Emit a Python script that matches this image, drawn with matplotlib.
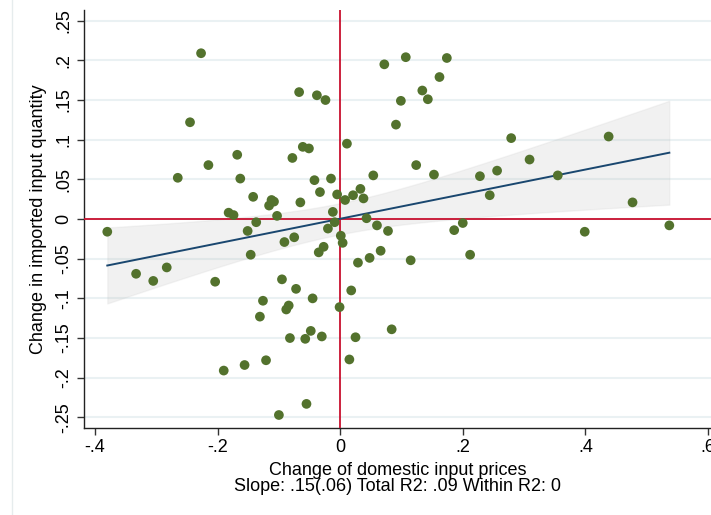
import numpy as np
import matplotlib
matplotlib.use("Agg")
import matplotlib.pyplot as plt

plt.rcParams['font.family'] = ['Liberation Sans', 'DejaVu Sans']

# change of domestic input prices (x) and imported input quantity (y)
dom_price = [
    -0.380, -0.333, -0.305, -0.283, -0.265, -0.245, -0.227, -0.215, -0.204, -0.190,
    -0.182, -0.174, -0.168, -0.163, -0.156, -0.151, -0.146, -0.142, -0.137, -0.131,
    -0.126, -0.121, -0.116, -0.112, -0.108, -0.103, -0.100, -0.095, -0.091, -0.088,
    -0.084, -0.082, -0.078, -0.075, -0.072, -0.067, -0.065, -0.061, -0.057, -0.055,
    -0.051, -0.048, -0.045, -0.042, -0.038, -0.035, -0.033, -0.030, -0.027, -0.024,
    -0.020, -0.015, -0.012, -0.009, -0.005, -0.001, 0.001, 0.004, 0.008, 0.011,
    0.015, 0.018, 0.021, 0.025, 0.029, 0.033, 0.038, 0.043, 0.048, 0.054,
    0.060, 0.066, 0.072, 0.078, 0.084, 0.091, 0.099, 0.107, 0.115, 0.124,
    0.134, 0.143, 0.153, 0.162, 0.174, 0.186, 0.200, 0.212, 0.228, 0.244,
    0.256, 0.279, 0.309, 0.355, 0.399, 0.438, 0.477, 0.537,
]
imp_qty = [
    -0.016, -0.069, -0.078, -0.061, 0.052, 0.122, 0.209, 0.068, -0.079, -0.191,
    0.008, 0.005, 0.081, 0.051, -0.184, -0.015, -0.045, 0.028, -0.004, -0.123,
    -0.103, -0.178, 0.017, 0.024, 0.022, 0.004, -0.247, -0.076, -0.029, -0.114,
    -0.109, -0.150, 0.077, -0.023, -0.088, 0.160, 0.021, 0.091, -0.151, -0.233,
    0.089, -0.141, -0.100, 0.049, 0.156, -0.042, 0.034, -0.148, -0.035, 0.150,
    -0.012, 0.051, 0.009, -0.004, 0.031, -0.111, -0.021, -0.030, 0.024, 0.095,
    -0.177, -0.090, 0.030, -0.149, -0.055, 0.038, 0.026, 0.001, -0.049, 0.055,
    -0.008, -0.040, 0.195, -0.015, -0.139, 0.119, 0.149, 0.204, -0.052, 0.068,
    0.162, 0.151, 0.056, 0.179, 0.203, -0.014, -0.005, -0.045, 0.054, 0.030,
    0.061, 0.102, 0.075, 0.055, -0.016, 0.104, 0.021, -0.008,
]

y_ticks = [-0.25, -0.2, -0.15, -0.1, -0.05, 0, 0.05, 0.1, 0.15, 0.2, 0.25]
y_ticklabels = ['-.25', '-.2', '-.15', '-.1', '-.05', '0', '.05', '.1', '.15', '.2', '.25']
x_ticks = [-0.4, -0.2, 0, 0.2, 0.4, 0.6]
x_ticklabels = ['-.4', '-.2', '0', '.2', '.4', '.6']

x = np.array(dom_price)
y = np.array(imp_qty)

# linear fit with 95% CI (like Stata lfitci)
n = len(x)
b, a = np.polyfit(x, y, 1)
resid = y - (a + b * x)
s = np.sqrt(np.sum(resid ** 2) / (n - 2))
sxx = np.sum((x - x.mean()) ** 2)
xf = np.linspace(x.min(), x.max(), 100)
yf = a + b * xf
hw = 1.985 * s * np.sqrt(1.0 / n + (xf - x.mean()) ** 2 / sxx)

fig = plt.figure(figsize=(7.11, 5.15), dpi=100)
ax = fig.add_axes([0.1177, 0.1683, 0.8823, 0.8123])

# faint frame line on the left of the graph region
fig.add_artist(plt.Line2D([0.017, 0.017], [0.0, 1.0], color='#e6eced', lw=1.0))

ax.set_xlim(-0.4185, 0.605)
ax.set_ylim(-0.2638, 0.2635)

ax.set_yticks(y_ticks)
ax.set_yticklabels(y_ticklabels, rotation=90, va='center', fontsize=13)
ax.set_xticks(x_ticks)
ax.set_xticklabels(x_ticklabels, fontsize=13)
ax.tick_params(axis='both', length=5, width=1, color='#333333', pad=3)

ax.grid(axis='y', color='#eaf1f3', lw=1.5)
ax.set_axisbelow(True)
for side in ['top', 'right']:
    ax.spines[side].set_visible(False)
for side in ['left', 'bottom']:
    ax.spines[side].set_color('#222222')
    ax.spines[side].set_linewidth(1.0)

ax.fill_between(xf, yf - hw, yf + hw, facecolor='#b4b4b4', alpha=0.18,
                edgecolor='#c8c8c8', lw=1.0, zorder=2)
ax.axhline(0, color='#c8102e', lw=1.3, zorder=3)
ax.axvline(0, color='#c8102e', lw=1.3, zorder=3)
ax.plot(xf, yf, color='#1a476f', lw=1.4, zorder=4)
ax.scatter(x, y, s=49, color='#53722d', edgecolors='none', zorder=5)

ax.set_xlabel('Change of domestic input prices\nSlope: .15(.06) Total R2: .09 Within R2: 0',
              fontsize=13, linespacing=0.95, labelpad=4)
ax.set_ylabel('Change in imported input quantity', fontsize=13, labelpad=6)

fig.savefig('out.png', dpi=100)
